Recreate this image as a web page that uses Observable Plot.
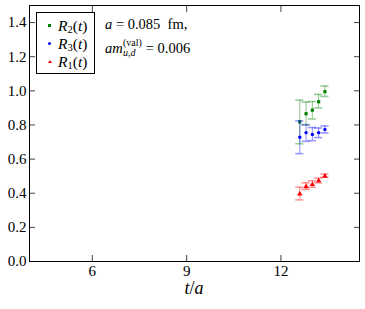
<!DOCTYPE html>
<html>
<head>
<meta charset="utf-8">
<script src="https://cdn.jsdelivr.net/npm/d3@7"></script>
<script src="https://cdn.jsdelivr.net/npm/@observablehq/plot@0.6"></script>
<style>
  html, body { margin: 0; padding: 0; background: #fff; }
  #wrap { position: relative; width: 365px; height: 309px; font-family: 'Liberation Serif', serif; }
  #wrap svg, #wrap svg text { font-family: 'Liberation Serif', serif !important; }
  .ov { position: absolute; white-space: nowrap; color: #000; font-family: 'Liberation Serif', serif; }
  .it { font-style: italic; }
</style>
</head>
<body>
<div id="wrap"></div>
<script>
// --- data ---
const t = [12.6, 12.8, 13.0, 13.2, 13.4];
const R2 = [0.818, 0.866, 0.887, 0.936, 0.995];
const R2lo = [0.690, 0.800, 0.835, 0.900, 0.967];
const R2hi = [0.945, 0.934, 0.937, 0.979, 1.028];
const R3 = [0.728, 0.755, 0.744, 0.755, 0.773];
const R3lo = [0.632, 0.704, 0.708, 0.726, 0.753];
const R3hi = [0.824, 0.802, 0.785, 0.782, 0.794];
const R1 = [0.396, 0.439, 0.451, 0.473, 0.500];
const R1lo = [0.361, 0.422, 0.435, 0.461, 0.494];
const R1hi = [0.435, 0.461, 0.473, 0.488, 0.512];
const xTicks = [6, 9, 12];
const yTicks = [0, 0.2, 0.4, 0.6, 0.8, 1.0, 1.2, 1.4];

const seriesDefs = [
  {name: "R2", v: R2, lo: R2lo, hi: R2hi, color: "#008000", symbol: "square", r: 1.8},
  {name: "R3", v: R3, lo: R3lo, hi: R3hi, color: "#0000ff", symbol: "circle", r: 1.7},
  {name: "R1", v: R1, lo: R1lo, hi: R1hi, color: "#ff0000", symbol: "triangle", r: 2.0}
];

const capHalf = 0.13; // half-width of error-bar caps, in t/a units
const marks = [];
for (const s of seriesDefs) {
  const rows = t.map((ti, i) => ({t: ti, v: s.v[i], lo: s.lo[i], hi: s.hi[i]}));
  marks.push(Plot.ruleX(rows, {x: "t", y1: "lo", y2: "hi", stroke: s.color, strokeOpacity: 0.45, strokeWidth: 1}));
  marks.push(Plot.ruleY(rows, {y: "lo", x1: d => d.t - capHalf, x2: d => d.t + capHalf, stroke: s.color, strokeOpacity: 0.4, strokeWidth: 1.6}));
  marks.push(Plot.ruleY(rows, {y: "hi", x1: d => d.t - capHalf, x2: d => d.t + capHalf, stroke: s.color, strokeOpacity: 0.4, strokeWidth: 1.6}));
  marks.push(Plot.dot(rows, {x: "t", y: "v", fill: s.color, stroke: "none", symbol: s.symbol, r: s.r}));
}

const tk = 6;
const chart = Plot.plot({
  width: 365,
  height: 309,
  marginLeft: 29,
  marginRight: 6,
  marginTop: 5,
  marginBottom: 48,
  style: {fontFamily: "'Liberation Serif', serif", fontSize: "15px", background: "#fff", color: "#000"},
  x: {domain: [4, 14.5], ticks: xTicks},
  y: {domain: [0, 1.5], ticks: yTicks},
  marks: [
    // labels
    Plot.axisY(yTicks, {anchor: "left", tickSize: 0, tickPadding: 3, tickFormat: d3.format(".1f"), label: null, fontSize: 15}),
    Plot.axisX(xTicks, {anchor: "bottom", tickSize: 0, tickPadding: 4, label: null, fontSize: 15}),
    // inward ticks on all four sides
    Plot.axisY(yTicks, {anchor: "left", tickSize: tk, dx: tk, text: null, label: null, stroke: "#444"}),
    Plot.axisY(yTicks, {anchor: "right", tickSize: tk, dx: -tk, text: null, label: null, stroke: "#444"}),
    Plot.axisX(xTicks, {anchor: "bottom", tickSize: tk, dy: -tk, text: null, label: null, stroke: "#444"}),
    Plot.axisX(xTicks, {anchor: "top", tickSize: tk, dy: tk, text: null, label: null, stroke: "#444"}),
    ...marks,
    Plot.frame({stroke: "#000", strokeWidth: 1})
  ]
});

const wrap = document.getElementById("wrap");
wrap.appendChild(chart);

// x-axis label
const xl = document.createElement("div");
xl.className = "ov";
xl.style.cssText = "left:194px;top:279px;transform:translateX(-50%);font-size:18px;line-height:18px;";
xl.innerHTML = '<span class="it">t</span>/<span class="it">a</span>';
wrap.appendChild(xl);

// legend box
const legend = document.createElement("div");
legend.className = "ov";
legend.style.cssText = "left:36px;top:12px;width:57px;height:60px;border:1px solid #000;background:#fff;font-size:15.5px;";
const legendItems = [
  {c: "#008000", sym: "sq", sub: "2"},
  {c: "#0000ff", sym: "ci", sub: "3"},
  {c: "#ff0000", sym: "tr", sub: "1"}
];
legendItems.forEach((it, i) => {
  const row = document.createElement("div");
  row.style.cssText = `position:absolute;left:0;top:${4 + i * 18}px;height:18px;width:57px;`;
  let mk;
  if (it.sym === "sq") mk = `<span style="position:absolute;left:11px;top:7px;width:3px;height:3px;background:${it.c}"></span>`;
  else if (it.sym === "ci") mk = `<span style="position:absolute;left:11px;top:7px;width:3px;height:3px;border-radius:50%;background:${it.c}"></span>`;
  else mk = `<span style="position:absolute;left:10.5px;top:6.5px;width:0;height:0;border-left:2px solid transparent;border-right:2px solid transparent;border-bottom:3.5px solid ${it.c}"></span>`;
  row.innerHTML = mk + `<span style="position:absolute;left:21px;top:0;line-height:18px;"><span class="it">R</span><sub style="font-size:10.5px;vertical-align:-2px;">${it.sub}</sub>(<span class="it">t</span>)</span>`;
  legend.appendChild(row);
});
wrap.appendChild(legend);

// annotation
const ann = document.createElement("div");
ann.className = "ov";
ann.style.cssText = "left:105px;top:15px;font-size:14.5px;line-height:18px;";
ann.innerHTML =
  '<div><span class="it">a</span> = 0.085&nbsp; fm,</div>' +
  '<div style="margin-top:6px;position:relative;height:18px;">' +
    '<span class="it">am</span>' +
    '<span style="display:inline-block;width:23px;"></span>= 0.006' +
    '<span style="position:absolute;left:18px;top:-1px;font-size:10px;line-height:10px;">(val)</span>' +
    '<span class="it" style="position:absolute;left:18px;top:9px;font-size:10px;line-height:10px;">u,d</span>' +
  '</div>';
wrap.appendChild(ann);
</script>
</body>
</html>
